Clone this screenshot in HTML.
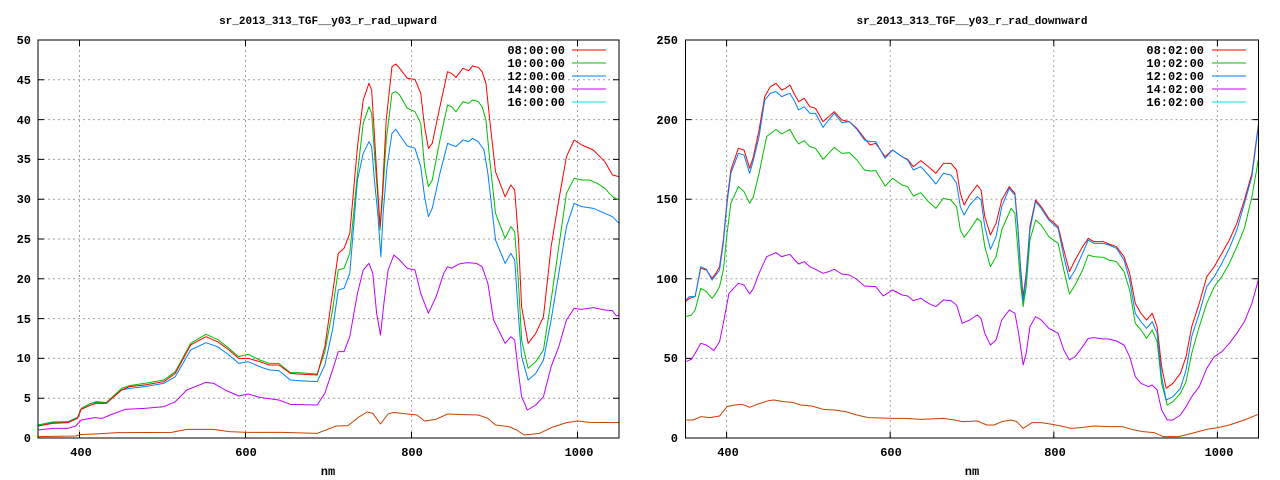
<!DOCTYPE html>
<html><head><meta charset="utf-8"><style>
html,body{margin:0;padding:0;background:#fff;}
svg{display:block;}
text{font-family:"Liberation Mono",monospace;font-size:12px;font-weight:bold;fill:#000;}
.g{stroke:#a0a0a0;stroke-width:1;stroke-dasharray:2,3;fill:none;}
.s{fill:none;stroke-width:1;vector-effect:non-scaling-stroke;stroke-linejoin:round;}
</style></head><body>
<svg width="1280" height="480" viewBox="0 0 1280 480" xmlns="http://www.w3.org/2000/svg">
<defs>
<clipPath id="cl"><rect x="38" y="40" width="581" height="398"/></clipPath>
<clipPath id="cr"><rect x="685.5" y="40" width="573" height="398"/></clipPath>
</defs>
<!-- LEFT -->
<text x="328" y="24" text-anchor="middle" style="font-size:11px">sr_2013_313_TGF__y03_r_rad_upward</text>
<g class="g">
<path d="M79.5 40V438M245.5 40V438M411.5 40V438M577.5 40V438"/>
<path d="M38 79.8H619M38 119.6H619M38 159.4H619M38 199.2H619M38 239H619M38 278.8H619M38 318.6H619M38 358.4H619M38 398.2H619"/>
</g>
<g stroke="#000" stroke-width="1">
<path d="M79.5 438v-6M245.5 438v-6M411.5 438v-6M577.5 438v-6M79.5 40v6M245.5 40v6M411.5 40v6M577.5 40v6"/>
<path d="M38 79.8h6M38 119.6h6M38 159.4h6M38 199.2h6M38 239h6M38 278.8h6M38 318.6h6M38 358.4h6M38 398.2h6M619 79.8h-6M619 119.6h-6M619 159.4h-6M619 199.2h-6M619 239h-6M619 278.8h-6M619 318.6h-6M619 358.4h-6M619 398.2h-6"/>
</g>
<g text-anchor="end">
<text x="31" y="44">50</text><text x="31" y="84">45</text><text x="31" y="124">40</text><text x="31" y="163">35</text><text x="31" y="203">30</text><text x="31" y="243">25</text><text x="31" y="283">20</text><text x="31" y="323">15</text><text x="31" y="362">10</text><text x="31" y="402">5</text><text x="31" y="442">0</text>
</g>
<g text-anchor="middle">
<text x="81" y="456">400</text><text x="246" y="456">600</text><text x="412" y="456">800</text><text x="579" y="456">1000</text>
<text x="328" y="475">nm</text>
</g>
<g clip-path="url(#cl)"><g transform="matrix(0.38350,0,0,0.33333,29.563,40)">
<polyline class="s" stroke="#c84000" points="22,1190 120,1188 130,1184 170,1182 230,1178 370,1177 410,1168 480,1168 520,1175 570,1177 660,1177 750,1180 800,1158 830,1157 860,1130 880,1116 895,1120 915,1152 935,1122 950,1117 970,1120 1010,1125 1030,1143 1060,1138 1090,1122 1130,1124 1170,1125 1195,1135 1215,1155 1250,1160 1270,1170 1290,1185 1330,1180 1360,1163 1400,1148 1430,1143 1460,1147 1537,1148"/>
<polyline class="s" stroke="#c000ff" points="22,1170 60,1165 100,1165 120,1158 135,1140 170,1133 190,1135 210,1125 250,1108 300,1105 350,1100 380,1085 410,1050 460,1027 480,1030 510,1050 545,1068 570,1062 600,1072 650,1080 680,1093 750,1095 770,1060 790,990 805,935 820,935 835,890 855,760 870,690 885,670 895,700 905,820 915,885 925,780 935,690 950,645 965,660 985,685 1005,690 1020,760 1040,820 1060,770 1080,700 1090,680 1100,685 1120,672 1140,668 1165,670 1180,680 1195,730 1210,840 1240,910 1255,890 1265,900 1275,1000 1283,1070 1298,1110 1320,1095 1340,1070 1360,980 1380,920 1400,840 1420,805 1440,808 1470,803 1500,810 1520,812 1530,828 1537,825"/>
<polyline class="s" stroke="#0080ff" points="22,1155 60,1146 100,1145 125,1132 135,1105 160,1090 175,1085 200,1088 240,1050 260,1045 300,1040 350,1030 380,1010 420,930 460,908 490,920 520,945 545,970 570,965 600,980 625,990 650,992 680,1020 700,1022 750,1025 770,975 790,870 805,750 820,745 835,700 855,420 870,340 885,305 892,320 900,430 908,520 916,650 922,520 932,380 945,280 955,268 965,285 985,318 1005,325 1020,380 1030,470 1040,530 1050,505 1070,400 1090,310 1100,315 1112,320 1130,300 1145,305 1155,295 1170,305 1185,330 1195,400 1215,600 1240,670 1255,640 1265,660 1275,830 1283,950 1300,1020 1320,1000 1340,960 1360,840 1380,700 1400,560 1420,490 1440,500 1470,505 1500,520 1520,530 1537,550"/>
<polyline class="s" stroke="#00c000" points="22,1155 60,1148 100,1146 125,1133 135,1105 160,1090 175,1088 200,1088 240,1045 260,1037 300,1030 350,1020 380,995 420,910 460,883 490,898 520,925 545,950 570,943 600,960 625,970 650,970 680,998 700,998 750,1002 770,935 790,810 805,690 820,685 835,640 855,400 870,250 885,200 892,220 900,350 908,470 914,570 920,480 930,300 945,160 955,155 965,165 985,205 1005,215 1020,250 1030,380 1040,440 1050,420 1070,300 1090,195 1100,200 1112,215 1130,185 1145,190 1155,180 1170,185 1180,200 1190,240 1200,360 1215,520 1240,595 1255,560 1265,575 1275,730 1283,900 1300,985 1320,965 1340,930 1360,780 1380,620 1400,460 1420,415 1440,420 1460,420 1480,430 1500,445 1520,470 1537,480"/>
<polyline class="s" stroke="#ff0000" points="22,1158 60,1150 100,1148 125,1135 135,1108 160,1095 175,1090 200,1090 240,1050 260,1040 300,1035 350,1025 380,1000 420,915 460,890 490,905 520,930 545,955 570,955 600,965 625,975 650,975 680,1000 700,1002 750,1005 770,920 790,760 805,640 820,625 835,580 855,320 870,180 885,130 892,150 900,300 908,450 914,560 920,460 930,240 945,80 955,72 965,85 985,115 1005,118 1020,160 1030,260 1040,325 1050,310 1070,200 1090,95 1100,100 1112,112 1130,85 1145,92 1155,78 1170,82 1180,95 1190,130 1200,240 1215,395 1240,470 1255,435 1265,450 1275,600 1283,800 1300,910 1320,880 1340,830 1360,620 1380,480 1400,350 1420,300 1440,315 1470,330 1500,365 1520,405 1537,410"/>
</g></g>
<rect x="38" y="40" width="581" height="398" fill="none" stroke="#000" stroke-width="1"/>
<g text-anchor="end">
<text x="565" y="54">08:00:00</text><text x="565" y="67">10:00:00</text><text x="565" y="80">12:00:00</text><text x="565" y="93">14:00:00</text><text x="565" y="106">16:00:00</text>
</g>
<path d="M572 50h34" stroke="#ff0000"/><path d="M572 63h34" stroke="#00c000"/><path d="M572 76h34" stroke="#0080ff"/><path d="M572 89h34" stroke="#c000ff"/><path d="M572 102h34" stroke="#00e0e0"/>

<!-- RIGHT -->
<text x="972" y="24" text-anchor="middle" style="font-size:11px">sr_2013_313_TGF__y03_r_rad_downward</text>
<g class="g">
<path d="M726.6 40V438M890.2 40V438M1053.8 40V438M1217.4 40V438"/>
<path d="M685.5 119.6H1258.5M685.5 199.2H1258.5M685.5 278.8H1258.5M685.5 358.4H1258.5"/>
</g>
<g stroke="#000" stroke-width="1">
<path d="M726.6 438v-6M890.2 438v-6M1053.8 438v-6M1217.4 438v-6M726.6 40v6M890.2 40v6M1053.8 40v6M1217.4 40v6"/>
<path d="M685.5 119.6h6M685.5 199.2h6M685.5 278.8h6M685.5 358.4h6M1258.5 119.6h-6M1258.5 199.2h-6M1258.5 278.8h-6M1258.5 358.4h-6"/>
</g>
<g text-anchor="end">
<text x="678" y="44">250</text><text x="678" y="124">200</text><text x="678" y="203">150</text><text x="678" y="283">100</text><text x="678" y="362">50</text><text x="678" y="442">0</text>
</g>
<g text-anchor="middle">
<text x="728" y="456">400</text><text x="891" y="456">600</text><text x="1055" y="456">800</text><text x="1219" y="456">1000</text>
<text x="972" y="475">nm</text>
</g>
<g clip-path="url(#cr)"><g transform="matrix(0.37622,0,0,0.33333,680.06,40)">
<polyline class="s" stroke="#c84000" points="15,1140 35,1140 55,1130 80,1133 105,1128 125,1100 145,1095 165,1093 185,1102 205,1093 235,1082 250,1080 275,1085 300,1087 320,1095 350,1098 380,1108 410,1110 440,1115 470,1125 500,1133 560,1135 600,1135 640,1138 700,1135 730,1140 750,1145 790,1143 815,1155 835,1155 855,1145 880,1140 895,1145 912,1165 935,1148 960,1148 990,1153 1020,1160 1040,1165 1070,1162 1100,1158 1140,1160 1175,1160 1200,1168 1230,1175 1260,1178 1285,1190 1325,1190 1360,1180 1400,1168 1430,1163 1460,1155 1500,1140 1537,1123"/>
<polyline class="s" stroke="#c000ff" points="15,965 30,958 40,940 55,910 70,915 90,932 105,905 115,850 130,760 155,730 170,735 185,762 195,745 210,700 230,650 255,638 270,650 292,643 305,660 315,672 330,665 345,680 360,688 380,700 395,695 410,688 430,702 450,705 470,718 490,738 520,740 540,768 565,750 590,765 605,768 620,782 640,775 660,790 680,800 700,780 720,782 735,795 750,850 770,840 790,825 800,835 810,880 825,915 840,900 855,840 875,810 890,820 900,880 912,975 920,940 930,860 945,830 960,840 980,865 1005,880 1020,930 1035,960 1050,950 1070,920 1085,895 1100,893 1125,897 1140,897 1160,903 1180,915 1195,950 1210,1010 1225,1030 1245,1040 1255,1035 1268,1050 1280,1110 1295,1140 1310,1140 1330,1125 1345,1100 1360,1070 1380,1040 1400,985 1420,950 1440,935 1460,910 1480,880 1500,845 1520,790 1537,720"/>
<polyline class="s" stroke="#00c000" points="15,830 30,825 40,810 55,745 70,755 85,775 95,760 105,740 115,690 125,580 135,490 155,440 170,455 185,490 195,470 210,400 230,290 255,268 270,282 292,268 305,295 315,312 330,302 345,320 360,325 380,358 395,340 410,322 430,340 450,338 470,360 490,390 505,393 520,392 545,438 565,415 590,435 605,440 620,468 640,458 660,485 680,505 700,475 720,480 735,500 745,570 755,592 770,570 790,535 800,545 810,620 825,680 840,650 855,570 880,505 890,520 898,630 905,730 912,800 920,740 930,600 945,540 960,555 980,590 1005,610 1020,690 1035,762 1050,735 1070,690 1085,645 1100,650 1125,652 1140,660 1160,665 1180,695 1195,750 1210,850 1225,870 1240,895 1255,870 1268,905 1280,1030 1295,1095 1310,1085 1330,1060 1345,1025 1360,940 1380,860 1400,790 1420,740 1440,710 1460,670 1480,620 1500,565 1520,470 1537,360"/>
<polyline class="s" stroke="#ff0000" points="15,785 25,775 40,770 55,685 70,690 85,715 95,700 105,680 115,600 125,480 135,390 155,325 170,330 185,385 195,350 210,270 225,170 240,140 255,130 270,150 280,145 292,135 305,165 315,185 330,175 345,200 360,205 380,245 395,230 410,215 430,240 450,245 470,265 490,295 505,315 520,310 545,350 565,330 590,350 605,358 620,380 640,362 660,380 680,400 700,370 720,370 735,390 745,460 755,495 770,465 790,435 800,450 810,530 825,585 840,550 855,480 875,440 890,460 898,560 905,680 912,770 920,700 930,560 945,480 960,500 980,535 1005,560 1020,630 1035,695 1050,660 1070,620 1085,595 1100,605 1125,605 1140,612 1160,620 1180,650 1195,700 1210,790 1225,820 1240,840 1255,820 1268,860 1280,980 1292,1045 1310,1030 1330,1000 1345,950 1360,860 1380,790 1400,710 1420,680 1440,640 1460,600 1480,550 1500,480 1520,400 1537,255"/>
<polyline class="s" stroke="#0080ff" points="15,780 25,770 40,770 55,680 70,688 85,720 95,705 105,690 115,610 125,490 135,400 155,340 170,345 185,400 195,360 210,290 225,180 240,160 255,155 270,170 280,165 292,160 305,185 315,210 330,200 345,220 360,220 380,262 395,240 410,220 430,248 450,245 470,268 490,300 505,305 520,305 545,355 565,330 590,350 605,360 620,390 640,380 660,405 680,432 700,400 720,405 735,430 745,500 755,525 770,495 790,470 800,480 810,560 825,628 840,590 855,500 875,445 890,465 898,570 905,690 912,785 920,710 930,570 945,485 960,505 980,540 1005,565 1020,650 1035,718 1050,690 1070,640 1085,600 1100,610 1125,610 1140,615 1160,625 1180,660 1195,720 1210,820 1225,845 1240,865 1255,845 1268,880 1280,1010 1292,1080 1310,1070 1330,1045 1345,990 1360,890 1380,820 1400,740 1420,710 1440,670 1460,625 1480,570 1500,490 1520,410 1537,260"/>
</g></g>
<rect x="685.5" y="40" width="573" height="398" fill="none" stroke="#000" stroke-width="1"/>
<g text-anchor="end">
<text x="1204" y="54">08:02:00</text><text x="1204" y="67">10:02:00</text><text x="1204" y="80">12:02:00</text><text x="1204" y="93">14:02:00</text><text x="1204" y="106">16:02:00</text>
</g>
<path d="M1212 50h34" stroke="#ff0000"/><path d="M1212 63h34" stroke="#00c000"/><path d="M1212 76h34" stroke="#0080ff"/><path d="M1212 89h34" stroke="#c000ff"/><path d="M1212 102h34" stroke="#00e0e0"/>
</svg>
</body></html>
